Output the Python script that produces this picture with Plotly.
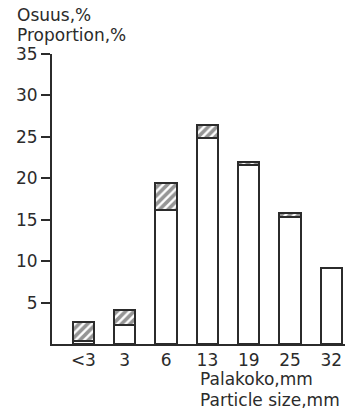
import plotly.graph_objects as go

categories = ["<3", "3", "6", "13", "19", "25", "32"]
white_part = [0.4, 2.3, 16.2, 24.9, 21.6, 15.3, 9.2]
hatched_part = [2.2, 1.8, 3.2, 1.5, 0.4, 0.5, 0.0]
y_ticks = [5, 10, 15, 20, 25, 30, 35]

INK = "#2b2b2b"
FONT = "DejaVu Sans"

fig = go.Figure()
fig.add_trace(go.Bar(
    x=categories, y=white_part,
    marker=dict(color="white", line=dict(color=INK, width=2)),
    width=0.52, showlegend=False, hoverinfo="skip",
))
fig.add_trace(go.Bar(
    x=categories, y=hatched_part,
    marker=dict(color="white", line=dict(color=INK, width=2),
                pattern=dict(shape="/", fgcolor=INK, bgcolor="white",
                             size=6, solidity=0.6, fillmode="overlay")),
    width=0.52, showlegend=False, hoverinfo="skip",
))

fig.update_layout(
    barmode="stack",
    width=358, height=409,
    margin=dict(l=52, r=13, t=54, b=65),
    paper_bgcolor="white", plot_bgcolor="white",
    font=dict(family=FONT, size=17, color=INK),
    xaxis=dict(
        type="category", range=[-0.76, 6.33],
        showline=True, linecolor=INK, linewidth=2,
        ticks="", showgrid=False, zeroline=False,
        tickfont=dict(family=FONT, size=17, color=INK),
    ),
    yaxis=dict(
        range=[0, 35], tickvals=y_ticks,
        showline=True, linecolor=INK, linewidth=2,
        ticks="outside", ticklen=9, tickwidth=2, tickcolor=INK,
        showgrid=False, zeroline=False,
        tickfont=dict(family=FONT, size=17, color=INK),
    ),
    annotations=[
        dict(text="Osuus,%", xref="paper", yref="paper", x=-0.126, y=1.135,
             xanchor="left", yanchor="middle", showarrow=False,
             font=dict(family=FONT, size=17, color=INK)),
        dict(text="Proportion,%", xref="paper", yref="paper", x=-0.126, y=1.066,
             xanchor="left", yanchor="middle", showarrow=False,
             font=dict(family=FONT, size=17, color=INK)),
        dict(text="Palakoko,mm", xref="paper", yref="paper", x=0.498, y=-0.121,
             xanchor="left", yanchor="middle", showarrow=False,
             font=dict(family=FONT, size=17, color=INK)),
        dict(text="Particle size,mm", xref="paper", yref="paper", x=0.498, y=-0.193,
             xanchor="left", yanchor="middle", showarrow=False,
             font=dict(family=FONT, size=17, color=INK)),
    ],
)

fig.write_html("out.html",
               config={"displayModeBar": False},
               post_script="document.body.style.margin='0';document.body.style.overflow='hidden';")
